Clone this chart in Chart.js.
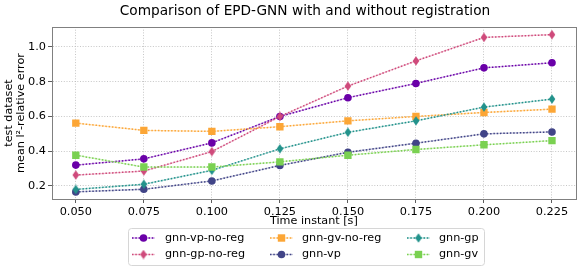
<!DOCTYPE html>
<html><head>
<meta charset="utf-8">
<script src="https://cdn.jsdelivr.net/npm/chart.js@4/dist/chart.umd.min.js"></script>
<style>html,body{margin:0;padding:0;background:#fff}</style>
</head><body>
<canvas id="c" width="581" height="269"></canvas>
<script>
// ---- data ----
const chartTitle = 'Comparison of EPD-GNN with and without registration';
const times = [0.050, 0.075, 0.100, 0.125, 0.150, 0.175, 0.200, 0.225];
const xTickLabels = ['0.050', '0.075', '0.100', '0.125', '0.150', '0.175', '0.200', '0.225'];
const yTicks = [0.2, 0.4, 0.6, 0.8, 1.0];
const yTickLabels = ['0.2', '0.4', '0.6', '0.8', '1.0'];
const seriesNames = ['gnn-vp-no-reg', 'gnn-gp-no-reg', 'gnn-gv-no-reg', 'gnn-vp', 'gnn-gp', 'gnn-gv'];
const gnnVpNoReg = [0.320, 0.356, 0.448, 0.600, 0.708, 0.790, 0.880, 0.909];
const gnnGpNoReg = [0.263, 0.286, 0.398, 0.600, 0.775, 0.920, 1.055, 1.071];
const gnnGvNoReg = [0.562, 0.520, 0.514, 0.541, 0.575, 0.600, 0.623, 0.642];
const gnnVp      = [0.166, 0.181, 0.229, 0.318, 0.394, 0.446, 0.500, 0.511];
const gnnGp      = [0.180, 0.210, 0.290, 0.414, 0.509, 0.575, 0.654, 0.700];
const gnnGv      = [0.377, 0.309, 0.309, 0.339, 0.377, 0.410, 0.437, 0.461];
const seriesValues = [gnnVpNoReg, gnnGpNoReg, gnnGvNoReg, gnnVp, gnnGp, gnnGv];
const seriesColors = ['#6a00a8', '#cf4a7b', '#fca636', '#414487', '#22928b', '#7ad151'];
const seriesMarkers = ['circle', 'diamond', 'square', 'circle', 'diamond', 'square'];

const DASH = [1.5, 1.8];
function hexA(hex, a) {
  const n = parseInt(hex.slice(1), 16);
  return `rgba(${(n >> 16) & 255},${(n >> 8) & 255},${n & 255},${a})`;
}
function diamondImg(color) {
  const c = document.createElement('canvas');
  c.width = 8; c.height = 10;
  const g = c.getContext('2d');
  g.fillStyle = color;
  g.beginPath();
  g.moveTo(4, 0.2); g.lineTo(7.3, 5); g.lineTo(4, 9.8); g.lineTo(0.7, 5);
  g.closePath(); g.fill();
  return c;
}
function markerStyle(m, color) {
  if (m === 'circle') return { pointStyle: 'circle', radius: 3.8 };
  if (m === 'square') return { pointStyle: 'rect', radius: 5.2 };
  return { pointStyle: diamondImg(color), radius: 5 };
}

const datasets = [];
seriesNames.forEach((name, i) => {
  const col = seriesColors[i];
  const pts = times.map((t, j) => ({ x: t, y: seriesValues[i][j] }));
  datasets.push({
    label: name + '_shade', data: pts, borderColor: hexA(col, 0.3),
    borderWidth: 1.3, pointRadius: 0, fill: false, tension: 0, order: 20 - 2 * i
  });
  const ms = markerStyle(seriesMarkers[i], col);
  datasets.push({
    label: name, data: pts, borderColor: col, backgroundColor: col,
    borderWidth: 1.5, borderDash: DASH, pointStyle: ms.pointStyle,
    pointRadius: ms.radius, pointHoverRadius: ms.radius, pointBorderWidth: 0,
    fill: false, tension: 0, order: 19 - 2 * i
  });
});

const FONT = 'DejaVu Sans';

const frame = {
  id: 'frame',
  afterDraw(chart) {
    const { ctx, chartArea: a } = chart;
    ctx.save();
    ctx.strokeStyle = '#808080';
    ctx.lineWidth = 1;
    ctx.strokeRect(Math.round(a.left) + 0.5, Math.round(a.top) + 0.5,
      Math.round(a.right - a.left), Math.round(a.bottom - a.top));
    ctx.fillStyle = '#000';
    ctx.font = `13.7px "${FONT}"`;
    ctx.textAlign = 'center';
    ctx.textBaseline = 'middle';
    ctx.fillText(chartTitle, 305, 11);
    ctx.restore();
  }
};

const legendPlugin = {
  id: 'mplLegend',
  afterDraw(chart) {
    const ctx = chart.ctx;
    ctx.save();
    const bx = 128, by = 228, bw = 356, bh = 37;
    ctx.beginPath();
    ctx.roundRect(bx + 0.5, by + 0.5, bw, bh, 3);
    ctx.fillStyle = 'rgba(255,255,255,0.8)';
    ctx.fill();
    ctx.strokeStyle = '#d6d6d6';
    ctx.lineWidth = 1;
    ctx.stroke();
    const hx = [132, 270, 407];
    const tx = [165, 302, 439];
    const ry = [238, 254.5];
    ctx.font = `11.2px "${FONT}"`;
    ctx.textBaseline = 'middle';
    seriesNames.forEach((name, i) => {
      const c = Math.floor(i / 2), r = i % 2;
      const y = ry[r], x1 = hx[c], x2 = hx[c] + 23, xm = (x1 + x2) / 2;
      const col = seriesColors[i];
      ctx.setLineDash([]);
      ctx.strokeStyle = hexA(col, 0.3); ctx.lineWidth = 1.3;
      ctx.beginPath(); ctx.moveTo(x1, y); ctx.lineTo(x2, y); ctx.stroke();
      ctx.setLineDash(DASH);
      ctx.strokeStyle = col; ctx.lineWidth = 1.5;
      ctx.beginPath(); ctx.moveTo(x1, y); ctx.lineTo(x2, y); ctx.stroke();
      ctx.setLineDash([]);
      ctx.fillStyle = col;
      const m = seriesMarkers[i];
      if (m === 'circle') {
        ctx.beginPath(); ctx.arc(xm, y, 3.8, 0, Math.PI * 2); ctx.fill();
      } else if (m === 'square') {
        ctx.fillRect(xm - 3.7, y - 3.7, 7.4, 7.4);
      } else {
        ctx.drawImage(diamondImg(col), xm - 4, y - 5);
      }
      ctx.fillStyle = '#000';
      ctx.fillText(name, tx[c], y);
    });
    ctx.restore();
  }
};

new Chart(document.getElementById('c'), {
  type: 'line',
  data: { datasets },
  options: {
    responsive: false,
    devicePixelRatio: 1,
    animation: false,
    layout: { padding: { left: 0, right: 5, top: 27, bottom: 40 } },
    plugins: {
      legend: { display: false },
      tooltip: { enabled: false },
      title: { display: false }
    },
    scales: {
      x: {
        type: 'linear', min: 0.04125, max: 0.23375,
        afterBuildTicks(s) { s.ticks = times.map(v => ({ value: v })); },
        afterFit(s) { s.height = 30; s.paddingLeft = 0; s.paddingRight = 0; },
        ticks: {
          color: '#000', font: { family: FONT, size: 11.3 }, padding: 2, maxRotation: 0,
          callback(v) { const k = times.indexOf(v); return k >= 0 ? xTickLabels[k] : ''; }
        },
        grid: { color: '#b8b8b8', lineWidth: 0.8, tickLength: 4, tickColor: '#333', tickWidth: 0.8 },
        border: { display: true, color: '#808080', dash: [1, 1.7] },
        title: {
          display: true, text: 'Time instant [s]', color: '#000',
          font: { family: FONT, size: 11.2 }, padding: { top: 0, bottom: 1 }
        }
      },
      y: {
        type: 'linear', min: 0.125, max: 1.115,
        afterBuildTicks(s) { s.ticks = yTicks.map(v => ({ value: v })); },
        afterFit(s) { s.width = 52; s.paddingTop = 0; s.paddingBottom = 0; },
        ticks: {
          color: '#000', font: { family: FONT, size: 11.3 }, padding: 2,
          callback(v) { const k = yTicks.findIndex(t => Math.abs(t - v) < 1e-9); return k >= 0 ? yTickLabels[k] : ''; }
        },
        grid: { color: '#b8b8b8', lineWidth: 0.8, tickLength: 4, tickColor: '#333', tickWidth: 0.8 },
        border: { display: true, color: '#808080', dash: [1, 1.7] },
        title: {
          display: true, text: ['test dataset', 'mean l²-relative error'], color: '#000',
          font: { family: FONT, size: 11.2, lineHeight: 1.1 }, padding: { top: 3, bottom: 0 }
        }
      }
    }
  },
  plugins: [frame, legendPlugin]
});
</script>
</body></html>
